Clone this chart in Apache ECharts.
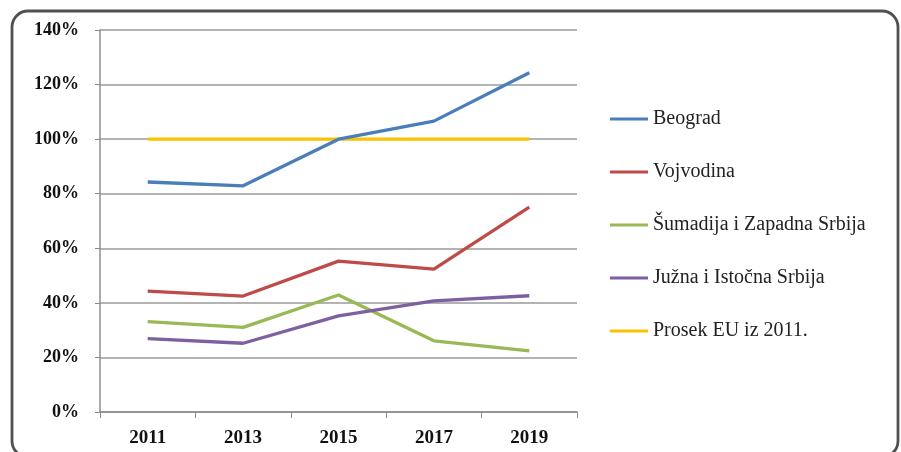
<!DOCTYPE html>
<html>
<head>
<meta charset="utf-8">
<style>
  html, body { margin: 0; padding: 0; background: #fff; }
  #chart { width: 901px; height: 452px; }
</style>
<script src="https://cdn.jsdelivr.net/npm/echarts@6/dist/echarts.min.js"></script>
</head>
<body>
<div id="chart"></div>
<script>
// Years on the horizontal axis
const years = ['2011', '2013', '2015', '2017', '2019'];

// Regional values, percent of the 2011 EU average
const beograd = [84.3, 82.9, 100.0, 106.6, 124.3];
const vojvodina = [44.3, 42.5, 55.3, 52.4, 75.1];
const sumadija = [33.1, 31.0, 42.9, 26.1, 22.4];
const juzna = [26.9, 25.2, 35.2, 40.7, 42.6];
const prosekEU = [100, 100, 100, 100, 100];

const seriesNames = ['Beograd', 'Vojvodina', 'Šumadija i Zapadna Srbija', 'Južna i Istočna Srbija', 'Prosek EU iz 2011.'];
const seriesData = [beograd, vojvodina, sumadija, juzna, prosekEU];
const colors = ['#4a7ebb', '#be4b48', '#98b954', '#7d60a0', '#f7c300'];

const serif = '"Liberation Serif", "DejaVu Serif", serif';

const chart = echarts.init(document.getElementById('chart'), null, { renderer: 'canvas' });

chart.setOption({
  animation: false,
  backgroundColor: '#ffffff',
  color: colors,
  grid: { left: 100, right: 324, top: 30, bottom: 40, containLabel: false },
  graphic: [{
    type: 'rect',
    shape: { x: 12, y: 11, width: 886, height: 446, r: 16 },
    style: { fill: 'none', stroke: '#505050', lineWidth: 2.8 },
    z: 100
  }],
  legend: {
    orient: 'vertical',
    left: 605,
    top: 104,
    itemWidth: 38,
    itemHeight: 20,
    itemGap: 33,
    itemStyle: { borderWidth: 0 },
    textStyle: { fontFamily: serif, fontSize: 20, color: '#222' },
    data: seriesNames.map((n) => ({ name: n, icon: 'path://M0,8.5 L38,8.5 L38,11.5 L0,11.5 Z' }))
  },
  xAxis: {
    type: 'category',
    data: years,
    boundaryGap: true,
    axisLine: { lineStyle: { color: '#8c8c8c', width: 1.5 } },
    axisTick: { show: true, alignWithLabel: false, length: 6, lineStyle: { color: '#8c8c8c' } },
    axisLabel: { fontFamily: serif, fontWeight: 'bold', fontSize: 19, color: '#111', margin: 17 },
    splitLine: { show: false }
  },
  yAxis: {
    type: 'value',
    min: 0,
    max: 140,
    interval: 20,
    axisLine: { show: true, lineStyle: { color: '#8c8c8c', width: 1.5 } },
    axisTick: { show: true, length: 5, lineStyle: { color: '#8c8c8c' } },
    axisLabel: { fontFamily: serif, fontWeight: 'bold', fontSize: 18, color: '#111', margin: 21, formatter: '{value}%' },
    splitLine: { show: true, lineStyle: { color: '#9a9a9a', width: 1.5 } }
  },
  series: seriesNames.map((name, i) => ({
    name: name,
    type: 'line',
    data: seriesData[i],
    symbol: 'none',
    lineStyle: { width: 3.3, color: colors[i] },
    itemStyle: { color: colors[i] },
    z: i === 4 ? 1 : 2
  }))
});
</script>
</body>
</html>
